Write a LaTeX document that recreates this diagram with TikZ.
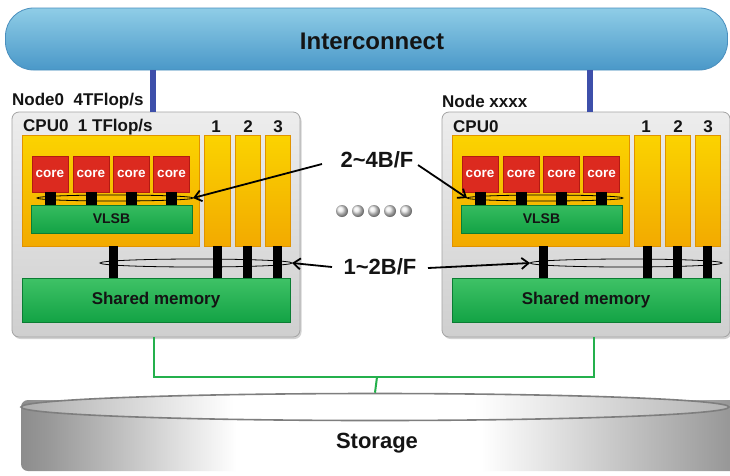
\documentclass[tikz,border=0pt]{standalone}
\usepackage{fontspec}
\setmainfont{Liberation Sans}
\usetikzlibrary{arrows.meta,shapes.geometric,shadows}
\definecolor{icTop}{HTML}{8FCDE7}
\definecolor{icMid}{HTML}{62B1DA}
\definecolor{icBot}{HTML}{4A98C8}
\definecolor{icEdge}{HTML}{4A8FBE}
\definecolor{blueLine}{HTML}{3D4FAA}
\definecolor{nodeTop}{HTML}{EDEDED}
\definecolor{nodeBot}{HTML}{CFCFCF}
\definecolor{nodeEdge}{HTML}{A4A4A4}
\definecolor{yelTop}{HTML}{FBD300}
\definecolor{yelBot}{HTML}{F2AA00}
\definecolor{yelEdge}{HTML}{E19300}
\definecolor{coreRed}{HTML}{DC2A1F}
\definecolor{coreEdge}{HTML}{B31A12}
\definecolor{grnTop}{HTML}{3FC266}
\definecolor{grnBot}{HTML}{13A345}
\definecolor{grnEdge}{HTML}{0B7D33}
\definecolor{gLine}{HTML}{24B04C}
\definecolor{txt}{HTML}{141414}
\definecolor{stEdge}{HTML}{7E7E7E}
\pgfdeclarehorizontalshading{storshade}{100bp}{color(0bp)=(gray!90); color(25bp)=(gray!90); color(27bp)=(gray!80); color(40bp)=(white); color(57bp)=(white); color(73bp)=(gray!75); color(75bp)=(gray!85); color(100bp)=(gray!85)}
\pgfdeclarehorizontalshading{stortopshade}{100bp}{color(0bp)=(gray!65); color(25bp)=(gray!65); color(40bp)=(white); color(57bp)=(white); color(75bp)=(gray!60); color(100bp)=(gray!60)}
\tikzset{
  nodebox/.style={draw=nodeEdge, line width=0.8pt, rounded corners=7pt, top color=nodeTop, bottom color=nodeBot, drop shadow={opacity=0.35, shadow xshift=1.5pt, shadow yshift=-2pt}, inner sep=0pt},
  lbl/.style={font=\bfseries\fontsize{17}{20}\selectfont, text=txt, inner sep=0pt},
  cpubox/.style={draw=yelEdge, line width=0.8pt, top color=yelTop, bottom color=yelBot, inner sep=0pt},
  corebox/.style={draw=coreEdge, line width=0.6pt, fill=coreRed, minimum width=36pt, minimum height=36pt, inner sep=0pt, text=white, font=\bfseries\fontsize{13.5}{16}\selectfont},
  vlsbbox/.style={draw=grnEdge, line width=1pt, top color=grnTop!80!grnBot, bottom color=grnBot, inner sep=0pt, text=txt, font=\bfseries\fontsize{14}{16}\selectfont},
  shmbox/.style={draw=grnEdge, line width=0.8pt, top color=grnTop, bottom color=grnBot, inner sep=0pt, text=txt, font=\bfseries\fontsize{17}{20}\selectfont},
  cbar/.style={line width=11pt, black},
  mbar/.style={line width=9pt, black},
  busring/.style={ellipse, draw=black, line width=0.8pt, inner sep=0pt, outer sep=0pt},
  arr/.style={line width=1.8pt, black, -{Straight Barb[length=7pt,width=11pt,line width=1.8pt]}},
  biglbl/.style={font=\bfseries\fontsize{22}{26}\selectfont, text=txt, inner sep=0pt},
  ibline/.style={line width=6pt, blueLine},
  gline/.style={line width=2pt, gLine},
  dotball/.style={circle, minimum size=12pt, inner sep=0pt, ball color=gray!15}
}
\newcommand{\compnode}[4]{%
\begin{scope}[xshift=#1pt]
  \node[nodebox, minimum width=288pt, minimum height=225pt] (box#2) at (156,224.5) {};
  \node[lbl, anchor=west] (nl#2) at (12,101) {#3};
  \node[lbl, anchor=west] (cl#2) at (23,127) {#4};
  \node[lbl] (na#2) at (216,127) {1};
  \node[lbl] (nb#2) at (248,127) {2};
  \node[lbl] (nc#2) at (278,127) {3};
  \node[cpubox, minimum width=177pt, minimum height=111pt] (cpua#2) at (110.5,190.5) {};
  \node[cpubox, minimum width=26pt, minimum height=111pt] (cpub#2) at (217,190.5) {};
  \node[cpubox, minimum width=25pt, minimum height=111pt] (cpuc#2) at (247.5,190.5) {};
  \node[cpubox, minimum width=25pt, minimum height=111pt] (cpud#2) at (277.5,190.5) {};
  \node[vlsbbox, minimum width=161pt, minimum height=28pt] (vlsb#2) at (111.5,219) {VLSB};
  \node[shmbox, minimum width=268pt, minimum height=44pt] (shm#2) at (156,300) {Shared memory};
  \foreach \i/\x in {1/50,2/91,3/131.5,4/171.5}{
    \node[corebox] (core\i#2) at (\x,174) {core};
    \draw[cbar] (core\i#2.south) -- (core\i#2.south |- vlsb#2.north);
  }
  \draw[mbar] ([xshift=2.5pt]cpua#2.south) -- ([xshift=2.5pt]cpua#2.south |- shm#2.north);
  \draw[mbar] (cpub#2.south) -- (cpub#2.south |- shm#2.north);
  \draw[mbar] ([xshift=-0.5pt]cpuc#2.south) -- ([xshift=-0.5pt]cpuc#2.south |- shm#2.north);
  \draw[mbar] ([xshift=-0.5pt]cpud#2.south) -- ([xshift=-0.5pt]cpud#2.south |- shm#2.north);
  \node[busring, minimum width=156pt, minimum height=6pt] (busu#2) at (115,198) {};
  \node[busring, minimum width=192pt, minimum height=8pt] (busl#2) at (196,263) {};
\end{scope}}
\begin{document}
\begin{tikzpicture}[x=1pt,y=-1pt]
\useasboundingbox (0,0) rectangle (730,475);
\clip (0,0) rectangle (730,475);
\fill[white] (0,0) rectangle (730,475);
% interconnect
\node[draw=icEdge, line width=0.8pt, rounded corners=28pt, top color=icTop, middle color=icMid, bottom color=icBot, minimum width=722pt, minimum height=62pt, inner sep=0pt] (ic) at (366.5,39) {};
\node[font=\bfseries\fontsize{24}{28}\selectfont, text=txt, inner sep=0pt] (ict) at (372,41) {Interconnect};
% compute nodes
\compnode{0}{L}{Node0\ \ 4TFlop/s}{CPU0\ \ 1 TFlop/s}
\compnode{430}{R}{Node xxxx}{CPU0}
\draw[ibline] (ic.south -| 153,0) -- (boxL.north -| 153,0);
\draw[ibline] (ic.south -| 590,0) -- (boxR.north -| 590,0);
% bandwidth labels
\node[biglbl] (bw1) at (377,160) {2\textasciitilde4B/F};
\node[biglbl] (bw2) at (380,267) {1\textasciitilde2B/F};
\coordinate (s1) at (322,164);
\coordinate (s2) at (418,165);
\coordinate (s3) at (332,267);
\coordinate (s4) at (428,268);
\draw[arr] (s1) -- (busuL.east);
\draw[arr] (s2) -- (busuR.west);
\draw[arr] (s3) -- (buslL.east);
\draw[arr] (s4) -- (buslR.west);
% dots
\foreach \k/\x in {1/342,2/358,3/374,4/390,5/406}{
  \node[dotball] (dot\k) at (\x,211) {};
}
% storage
\shade[shading=storshade, rounded corners=7pt] (21,400) rectangle (740,471);
\node[ellipse, draw=stEdge, line width=1.6pt, shading=stortopshade, minimum width=708pt, minimum height=27pt, inner sep=0pt] (stor) at (375,407) {};
\node[font=\bfseries\fontsize{22}{26}\selectfont, text=txt, inner sep=0pt] (stort) at (377,443) {Storage};
% green links
\coordinate (gj) at (377,377);
\draw[gline] (boxL.south -| 154,0) |- (gj) -| (boxR.south -| 594,0);
\draw[gline] (gj) -- (stor.north);
\end{tikzpicture}
\end{document}
